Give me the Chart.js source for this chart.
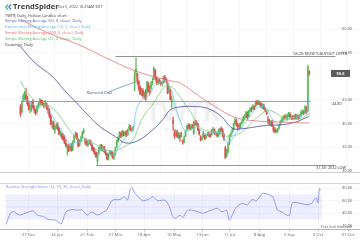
<!DOCTYPE html>
<html lang="en">
<head>
<meta charset="UTF-8">
<title>TWTR Daily</title>
<script src="https://cdn.jsdelivr.net/npm/chart.js"></script>
<style>
  html, body { margin: 0; padding: 0; background: #fff; }
  #wrap { position: relative; width: 360px; height: 240px; overflow: hidden; font-family: "Open Sans", "DejaVu Sans", sans-serif; }
  #priceCanvas { position: absolute; left: 0; top: 0; }
  #rsiCanvas { position: absolute; left: 0; top: 173px; }
  #hdr { position: absolute; left: 0; top: 0; width: 200px; pointer-events: none; }
  .logo { position: absolute; left: 5px; top: 1px; font-size: 7.5px; font-weight: 700; color: #3b3b3b; white-space: nowrap; }
  .stamp { position: absolute; left: 58px; top: 4px; font-size: 3.8px; color: #444; white-space: nowrap; }
  .ln { position: absolute; left: 5px; font-size: 3.9px; white-space: nowrap; }
</style>
</head>
<body>
<div id="wrap">
  <canvas id="priceCanvas" width="360" height="173"></canvas>
  <canvas id="rsiCanvas" width="360" height="67"></canvas>
  <div id="hdr">
    <div class="logo"><svg width="7" height="6" viewBox="0 0 7 6" style="vertical-align:-0.5px;margin-right:1px"><polyline points="3,0.5 0.8,3 3,5.5" fill="none" stroke="#3fb68b" stroke-width="1.2"/><polyline points="6,0.5 3.8,3 6,5.5" fill="none" stroke="#3a7bd5" stroke-width="1.2"/></svg>TrendSpider</div>
    <div class="stamp">Oct 5, 2022 10:25AM EDT</div>
    <div class="ln" style="top:12.5px;color:#333">TWTR, Daily, Hollow Candles chart</div>
    <div class="ln" style="top:18.3px;color:#5561a8">Simple Moving Average (50, 0, close), Daily</div>
    <div class="ln" style="top:24.1px;color:#4fb6e3">Exponential Moving Average (10, 0, close), Daily</div>
    <div class="ln" style="top:29.9px;color:#e06666">Simple Moving Average (200, 0, close), Daily</div>
    <div class="ln" style="top:35.7px;color:#5cb85c">Simple Moving Average (21, 0, close), Daily</div>
    <div class="ln" style="top:41.5px;color:#333">Drawings, Daily</div>
  </div>
</div>

<script>
// trading days from 3 Dec 2021 (index 0) to 5 Oct 2022 (index 210)
const tickIdx = [15, 34, 54, 73, 92, 112, 131, 149, 169, 189, 208, 228];
const tickLabels = ['27 Dec', '24 Jan', '21 Feb', '21 Mar', '18 Apr', '16 May', '13 Jun', '11 Jul', '8 Aug', '5 Sep', '3 Oct', '31 Oct'];
const priceTicks = [30, 35, 40, 45, 55, 60];
const rsiTicks = [20, 40, 60, 80];

const opens = [
  43.5,42.5,45.0,45.8,46.0,45.4,44.3,43.0,43.4,44.5,
  43.2,42.4,42.5,43.6,44.0,44.9,44.3,44.1,43.7,44.2,
  43.2,43.0,41.5,39.8,40.2,38.5,39.3,39.8,38.9,37.6,
  37.8,37.2,36.7,35.8,34.8,35.1,34.6,35.2,34.6,36.3,
  37.5,37.8,36.5,35.4,36.4,37.0,38.4,36.0,36.3,35.4,
  36.0,36.1,35.5,34.6,34.0,33.8,32.0,33.7,34.5,35.3,
  34.6,35.0,33.8,33.5,32.6,33.6,33.8,33.7,32.8,33.5,
  35.0,36.2,37.0,38.0,37.5,38.1,37.8,38.2,37.6,39.0,
  39.1,38.6,38.8,48.6,51.6,50.5,48.9,47.6,46.5,47.0,
  45.8,46.6,46.5,48.2,46.9,47.5,48.6,50.0,51.3,49.6,
  48.6,49.1,48.8,48.5,48.6,49.8,49.4,48.5,46.9,47.0,
  44.5,40.0,38.0,37.7,38.2,37.2,37.5,37.3,36.3,36.0,
  37.3,38.5,39.3,39.5,38.8,39.3,38.0,40.0,40.3,39.9,
  38.4,37.0,36.7,37.2,37.5,37.0,37.6,37.7,37.6,37.6,
  38.7,38.6,37.9,37.6,37.4,38.2,38.9,38.5,37.5,34.8,
  33.2,34.0,35.8,37.6,38.2,38.7,40.0,40.5,39.5,39.5,
  39.3,40.2,40.5,41.3,41.4,42.0,41.5,42.7,42.9,43.2,
  43.5,43.7,44.6,44.3,44.5,44.1,43.3,43.8,43.0,42.4,
  40.6,40.6,40.0,40.3,39.0,38.7,38.3,38.4,39.0,39.8,
  40.5,40.9,41.4,41.4,41.0,41.6,42.0,41.2,41.3,41.1,
  41.7,41.2,41.5,41.4,41.8,42.2,42.4,42.3,43.4,42.7,51.0
];
const highs = [
  44.0,44.8,46.3,46.8,47.4,45.8,44.6,43.8,44.6,45.0,
  43.8,43.0,43.8,44.3,45.3,45.1,44.9,44.4,44.9,44.3,
  43.8,43.2,41.9,40.6,40.5,39.5,40.0,40.2,39.2,38.4,
  38.0,37.8,37.5,36.4,35.6,35.5,35.8,35.7,36.3,37.5,
  38.2,38.0,36.8,36.5,37.3,38.3,38.9,36.9,36.7,36.2,
  36.6,36.5,35.7,35.0,34.7,34.0,33.8,35.0,35.5,35.6,
  35.2,35.2,34.3,33.8,33.7,34.3,34.2,34.0,33.6,34.9,
  36.5,37.2,38.3,38.2,38.6,38.4,38.3,38.5,38.8,39.8,
  39.6,39.0,39.5,51.0,53.9,50.7,49.1,48.0,47.5,47.4,
  46.7,47.2,48.9,48.8,48.0,48.9,49.7,52.0,51.5,49.9,
  49.4,49.5,49.0,48.9,50.0,50.2,49.6,48.9,48.0,47.2,
  45.7,41.4,38.6,38.7,38.5,38.0,38.0,38.2,36.6,37.2,
  38.5,39.6,40.0,39.9,39.8,39.8,40.5,40.6,40.6,40.1,
  38.7,37.4,37.4,38.3,37.7,37.6,38.1,38.2,38.0,38.8,
  39.2,38.9,38.3,38.0,38.8,39.0,39.3,38.9,37.9,35.2,
  34.5,35.9,37.6,38.2,39.0,40.1,41.2,40.9,40.0,40.0,
  40.2,40.7,41.5,41.9,42.6,42.5,42.8,43.3,43.5,44.0,
  43.8,44.8,44.9,44.9,44.7,44.4,44.2,44.1,43.3,42.6,
  41.5,40.9,40.6,40.7,39.5,39.2,38.8,39.0,39.8,40.6,
  41.2,41.6,41.8,41.9,42.0,42.4,42.3,41.6,41.7,41.8,
  42.0,42.0,41.8,41.9,42.7,42.9,42.8,43.8,43.6,52.4,51.2
];
const lows = [
  41.5,42.3,44.6,45.0,45.0,43.8,42.8,42.3,42.6,43.2,
  42.3,41.8,42.2,43.2,43.9,43.9,43.8,43.3,43.6,43.0,
  42.2,41.2,39.7,39.0,38.7,37.9,38.9,38.6,37.6,37.3,
  36.8,36.4,35.7,35.0,33.3,34.0,34.3,34.1,34.2,36.0,
  37.0,36.6,35.0,35.2,36.1,36.8,37.8,35.6,35.3,35.1,
  35.6,35.4,34.3,33.9,33.4,32.8,31.3,33.5,34.3,34.2,
  34.1,33.8,33.2,32.3,32.2,33.3,33.1,32.6,32.3,33.3,
  34.8,36.0,36.8,37.0,37.2,37.4,37.3,37.2,37.4,38.6,
  38.5,38.3,38.4,46.9,50.1,48.3,47.0,46.1,45.9,45.5,
  45.3,44.9,46.2,46.7,46.0,47.2,48.2,49.3,49.2,48.3,
  48.1,48.5,48.1,47.9,48.5,48.9,48.6,46.3,46.7,45.0,
  43.4,38.5,36.8,37.3,37.0,36.8,36.2,37.1,35.6,35.9,
  37.2,38.4,38.9,38.7,38.6,38.9,37.7,39.5,39.6,38.5,
  37.5,36.3,36.4,37.0,36.5,36.8,37.4,37.2,37.0,37.5,
  38.3,37.7,37.5,37.1,37.2,37.7,38.2,37.2,36.4,32.6,
  32.9,33.8,35.5,37.2,37.9,38.5,39.8,39.4,38.6,38.9,
  39.1,39.8,40.2,41.0,41.2,41.0,41.4,42.4,42.5,42.9,
  42.8,43.5,43.9,44.0,43.8,43.3,43.1,43.0,42.5,41.9,
  40.0,39.7,39.6,39.3,38.2,38.0,38.0,38.1,38.8,39.6,
  40.2,40.5,40.9,40.9,40.7,41.4,41.2,40.8,40.8,40.9,
  41.0,41.0,40.8,41.0,41.5,41.9,41.8,42.2,42.0,42.5,50.2
];
const closes = [
  42.0,44.6,45.8,46.2,45.3,44.2,43.0,43.5,44.4,43.4,
  42.8,42.2,43.6,44.0,44.9,44.2,44.1,43.8,44.4,43.2,
  42.9,41.6,39.8,40.2,38.9,39.3,39.6,38.8,37.8,38.1,
  37.1,36.6,35.9,35.3,35.4,34.2,35.0,34.4,36.1,37.4,
  37.9,36.9,35.3,36.4,36.9,38.1,38.3,36.4,35.5,35.8,
  36.3,35.6,34.5,34.2,33.6,32.9,33.6,34.9,35.4,34.5,
  35.0,34.0,33.5,32.5,33.0,34.1,33.6,32.7,33.3,34.8,
  36.4,37.0,38.0,37.3,38.4,37.6,38.2,37.5,38.7,39.3,
  38.7,38.7,39.3,50.0,51.0,48.9,47.6,46.2,46.2,45.9,
  46.2,45.1,48.8,46.9,46.6,48.6,48.9,51.7,49.7,48.6,
  49.1,49.0,48.6,48.7,49.9,49.3,49.1,46.4,47.6,45.1,
  45.1,40.7,37.4,38.3,37.2,37.4,37.1,37.9,36.0,37.1,
  38.3,39.5,39.2,38.8,39.5,39.2,40.2,40.1,39.8,38.6,
  37.8,36.6,37.0,38.0,36.8,37.3,37.8,37.5,37.3,38.6,
  38.6,37.9,37.9,37.4,38.5,38.9,38.6,37.3,36.8,32.7,
  34.1,35.6,37.5,37.8,38.5,39.9,40.7,39.7,39.5,39.3,
  40.0,40.3,41.3,41.6,42.4,41.2,42.7,43.1,43.0,43.6,
  43.1,44.6,44.1,44.7,44.0,43.6,43.9,43.2,42.8,42.0,
  40.9,39.9,40.4,39.4,38.6,38.2,38.6,38.8,39.6,40.4,
  41.0,41.4,41.2,41.6,41.7,42.2,41.4,41.5,41.2,41.6,
  41.1,41.8,41.3,41.5,42.3,42.6,42.1,43.6,42.3,52.0,50.6
];

// moving averages at sample days
const sma50Idx = [0, 10, 23, 32, 41, 50, 58, 69, 76, 85, 96, 104, 109, 116, 126, 136, 146, 154, 162, 169, 179, 189, 199, 209, 210];
const sma50Val = [56.3, 53.0, 50.0, 47.0, 44.3, 41.5, 39.3, 37.2, 35.9, 36.3, 38.6, 41.0, 42.9, 43.5, 43.6, 43.2, 41.5, 39.0, 38.9, 39.2, 39.6, 39.7, 40.2, 41.4, 41.6];
const ema10Idx = [0,3,5,8,10,13,15,19,22,25,28,31,34,37,40,43,46,49,52,55,57,60,63,67,70,73,76,79,82,83,84,86,88,91,93,95,97,100,104,106,108,110,111,113,116,119,122,126,129,132,135,140,144,147,149,151,154,157,160,164,168,171,174,177,179,181,184,187,190,193,196,200,204,207,208,209,210];
const ema10Val = [45.5,44.9,45.0,44.3,43.8,43.4,43.7,43.8,42.2,40.7,39.4,37.9,36.4,35.4,36.0,36.1,37.0,36.4,35.6,34.5,34.3,34.5,33.8,33.4,34.3,35.6,37.0,38.0,38.6,40.7,42.6,44.1,45.0,45.3,46.0,46.6,47.9,48.5,49.0,49.0,48.0,46.9,45.8,43.1,40.7,38.7,38.5,39.0,39.2,38.3,37.7,38.0,38.1,38.0,36.5,35.9,36.7,38.1,38.9,40.4,41.9,43.0,43.6,43.6,43.2,42.0,40.7,39.8,40.1,40.7,41.2,41.3,41.6,42.2,42.2,44.0,45.1];
const sma200Idx = [0, 20, 43, 63, 85, 111, 116, 129, 143, 156, 169, 189, 210];
const sma200Val = [62.0, 59.2, 56.6, 53.8, 51.0, 48.9, 48.6, 46.0, 43.3, 41.3, 40.6, 40.3, 40.1];
const sma21Idx = [0,5,10,15,20,25,30,35,40,45,50,55,60,65,70,75,80,83,86,90,95,100,105,110,113,116,120,125,130,135,140,145,150,155,160,165,170,175,180,185,190,195,200,205,209,210];
const sma21Val = [49.0,46.5,45.0,44.2,43.9,42.8,41.0,38.8,37.2,36.4,36.3,35.5,34.8,34.2,34.3,35.0,35.9,37.1,39.4,41.8,43.6,45.8,47.8,47.7,46.8,45.7,44.0,41.8,39.3,38.5,38.3,38.0,37.3,37.4,38.0,39.2,40.7,42.0,42.8,42.3,41.4,40.9,40.8,41.2,41.9,42.3];

// RSI (14)
const rsiIdx = [0,3,5,9,14,18,21,25,28,33,36,37,40,44,47,51,54,57,61,65,67,71,76,79,81,83,84,86,88,91,95,98,101,106,109,111,113,116,118,121,126,131,136,141,144,147,149,153,157,161,164,167,171,175,178,181,184,187,189,191,196,201,204,206,207,208,209,210];
const rsiVal = [22,40,42.5,37,41,44,37,34.5,30,29,24,23,42.5,46,45,45,37,42,37,42,45,61,62,66.5,61,79,81,72,66.5,60,62,66.5,60,61,50.5,35,32,37,33,45,44,40,44,48,42,45,29,48,56,53.5,62,60,72,70,66,45,42,37,37,57,56,53.5,56,64,64,57,80,77];

// drawn levels and notes
const levelVals = [54.2, 44.8, 31.3];
const levelText = ["54.20: MUSK'S BUYOUT OFFER", '44.80', '31.30: 2022 LOW'];
const lastPrice = 50.6;

const UP = '#5cb85c', DOWN = '#d9534f';
const X_MIN = -4, X_MAX = 236;
const FONT = '"Open Sans", "DejaVu Sans", sans-serif';

const days = closes.map((c, i) => i);
const candleColor = days.map(i => closes[i] >= (i ? closes[i - 1] : opens[i]) ? UP : DOWN);
const bodyColor = days.map(i => closes[i] > opens[i] ? candleColor[i] + 'bb' : candleColor[i]);
const pts = (idx, val) => idx.map((v, k) => ({ x: v, y: val[k] }));

function xAxis(showLabels) {
    return {
        type: 'linear', min: X_MIN, max: X_MAX,
        afterBuildTicks: s => { s.ticks = tickIdx.map(v => ({ value: v })); },
        ticks: {
            display: showLabels, autoSkip: false, maxRotation: 0, padding: 0.5,
            font: { family: FONT, size: 4.3 }, color: '#666',
            callback: v => tickLabels[tickIdx.indexOf(v)]
        },
        grid: { color: '#f0f0f0', lineWidth: 0.6, drawTicks: showLabels, tickLength: 2.5, tickColor: '#999' },
        border: { display: showLabels, color: '#b5b5b5' },
        afterFit: s => { s.height = showLabels ? 11 : 0; }
    };
}

const priceNotes = {
    id: 'priceNotes',
    beforeDatasetsDraw(chart) {
        const { ctx } = chart;
        ctx.save();
        ctx.fillStyle = 'rgba(0,0,0,0.06)';
        ctx.textAlign = 'center';
        ctx.font = '700 27px ' + FONT;
        ctx.fillText('TWTR', 183, 121);
        ctx.font = '12px ' + FONT;
        ctx.fillText('Twitter', 183, 137);
        ctx.restore();
    },
    afterDatasetsDraw(chart) {
        const { ctx, scales: { x, y } } = chart;
        ctx.save();
        ctx.font = '3.8px ' + FONT;
        // level lines
        const from = [69, 1, 55], to = [229, 211, 229];
        levelVals.forEach((v, k) => {
            const py = Math.round(y.getPixelForValue(v)) + 0.5;
            ctx.strokeStyle = k === 1 ? '#8a8a8a' : '#777';
            ctx.lineWidth = 0.8;
            ctx.beginPath();
            ctx.moveTo(x.getPixelForValue(from[k]), py);
            ctx.lineTo(x.getPixelForValue(to[k]), py);
            ctx.stroke();
        });
        ctx.fillStyle = '#333';
        ctx.textAlign = 'right';
        ctx.fillText(levelText[0], 347, y.getPixelForValue(levelVals[0]) - 1.5);
        ctx.fillText(levelText[2], 346, y.getPixelForValue(levelVals[2]) + 4.5);
        ctx.textAlign = 'left';
        ctx.fillText(levelText[1], 332, y.getPixelForValue(levelVals[1]) + 4);

        // rumored deal callout
        ctx.strokeStyle = '#6f93cf';
        ctx.lineWidth = 0.8;
        ctx.beginPath();
        ctx.moveTo(x.getPixelForValue(64), y.getPixelForValue(46.7));
        ctx.lineTo(x.getPixelForValue(82.5), y.getPixelForValue(48.7));
        ctx.stroke();
        ctx.fillStyle = '#3f4fa0';
        ctx.font = '3.8px ' + FONT;
        ctx.fillText('Rumored Deal', x.getPixelForValue(48), y.getPixelForValue(46.3));

        // price axis labels
        ctx.fillStyle = '#555';
        ctx.textAlign = 'right';
        ctx.textBaseline = 'middle';
        priceTicks.forEach(v => ctx.fillText(v.toFixed(2), 352, y.getPixelForValue(v)));

        // last price tag
        const ly = y.getPixelForValue(lastPrice);
        ctx.fillStyle = '#5a5a5a';
        ctx.fillRect(331, ly - 3.5, 19, 7);
        ctx.fillStyle = '#fff';
        ctx.textAlign = 'center';
        ctx.font = '700 4px ' + FONT;
        ctx.fillText(lastPrice.toFixed(1), 340.5, ly);

        // pane separator
        ctx.strokeStyle = '#cfcfcf';
        ctx.lineWidth = 1;
        ctx.beginPath();
        ctx.moveTo(0, chart.chartArea.bottom - 0.5);
        ctx.lineTo(360, chart.chartArea.bottom - 0.5);
        ctx.stroke();
        ctx.restore();
    }
};

new Chart(document.getElementById('priceCanvas'), {
    type: 'bar',
    data: {
        datasets: [
            { type: 'line', data: pts(sma200Idx, sma200Val), borderColor: 'rgba(226,110,110,0.75)', borderWidth: 1, pointRadius: 0, tension: 0.4, order: 0 },
            { type: 'line', data: pts(sma50Idx, sma50Val), borderColor: 'rgba(78,88,160,0.85)', borderWidth: 1, pointRadius: 0, tension: 0.4, order: 0 },
            { type: 'line', data: pts(sma21Idx, sma21Val), borderColor: 'rgba(120,200,120,0.85)', borderWidth: 0.9, pointRadius: 0, tension: 0.4, order: 0 },
            { type: 'line', data: pts(ema10Idx, ema10Val), borderColor: 'rgba(110,200,240,0.9)', borderWidth: 0.9, pointRadius: 0, tension: 0.4, order: 0 },
            { data: days.map(i => ({ x: i, y: [opens[i], closes[i]] })), backgroundColor: bodyColor, barThickness: 1.3, minBarLength: 0.8, grouped: false, order: 1 },
            { data: days.map(i => ({ x: i, y: [lows[i], highs[i]] })), backgroundColor: candleColor, barThickness: 0.6, grouped: false, order: 2 }
        ]
    },
    options: {
        responsive: false,
        animation: false,
        layout: { padding: 0 },
        plugins: { legend: { display: false }, tooltip: { enabled: false } },
        scales: {
            x: xAxis(false),
            y: {
                position: 'right', min: 29.5, max: 66.17,
                afterBuildTicks: s => { s.ticks = priceTicks.map(v => ({ value: v })); },
                ticks: { display: false },
                grid: { color: '#f3f3f3', lineWidth: 0.6, drawTicks: false },
                border: { display: false },
                afterFit: s => { s.width = 0; }
            }
        }
    },
    plugins: [priceNotes]
});

const rsiNotes = {
    id: 'rsiNotes',
    beforeDatasetsDraw(chart) {
        const { ctx, scales: { x, y } } = chart;
        ctx.save();
        ctx.fillStyle = 'rgba(120,130,250,0.13)';
        const x0 = x.getPixelForValue(0), x1 = x.getPixelForValue(210.7);
        const y70 = y.getPixelForValue(70), y30 = y.getPixelForValue(30);
        ctx.fillRect(x0, y70, x1 - x0, y30 - y70);
        ctx.strokeStyle = 'rgba(120,130,250,0.25)';
        ctx.lineWidth = 0.6;
        ctx.beginPath();
        ctx.moveTo(x0, y.getPixelForValue(50));
        ctx.lineTo(x1, y.getPixelForValue(50));
        ctx.stroke();
        // top pane line
        ctx.strokeStyle = '#d6d6d6';
        ctx.lineWidth = 1;
        ctx.beginPath();
        ctx.moveTo(0, chart.chartArea.top + 0.5);
        ctx.lineTo(360, chart.chartArea.top + 0.5);
        ctx.stroke();
        ctx.restore();
    },
    afterDatasetsDraw(chart) {
        const { ctx, scales: { y } } = chart;
        ctx.save();
        ctx.font = '3.9px ' + FONT;
        ctx.fillStyle = '#8888ee';
        ctx.textBaseline = 'middle';
        ctx.fillText('Relative Strength Index (14, 70, 30, close), Daily', 6, 14);
        ctx.fillStyle = '#555';
        ctx.textAlign = 'right';
        ctx.font = '3.8px ' + FONT;
        rsiTicks.forEach(v => ctx.fillText(v.toFixed(2), 352, y.getPixelForValue(v)));
        ctx.font = '3.3px ' + FONT;
        ctx.fillText('Your local time zone', 352, 54.5);
        ctx.restore();
    }
};

new Chart(document.getElementById('rsiCanvas'), {
    type: 'line',
    data: {
        datasets: [
            { data: pts(rsiIdx, rsiVal), borderColor: '#8a8cf2', borderWidth: 0.9, pointRadius: 0, tension: 0.2 }
        ]
    },
    options: {
        responsive: false,
        animation: false,
        layout: { padding: { top: 10 } },
        plugins: { legend: { display: false }, tooltip: { enabled: false } },
        scales: {
            x: xAxis(true),
            y: {
                position: 'right', min: 14.7, max: 88.5,
                afterBuildTicks: s => { s.ticks = rsiTicks.map(v => ({ value: v })); },
                ticks: { display: false },
                grid: { color: '#f3f3f3', lineWidth: 0.6, drawTicks: false },
                border: { display: false },
                afterFit: s => { s.width = 0; }
            }
        }
    },
    plugins: [rsiNotes]
});
</script>
</body>
</html>
